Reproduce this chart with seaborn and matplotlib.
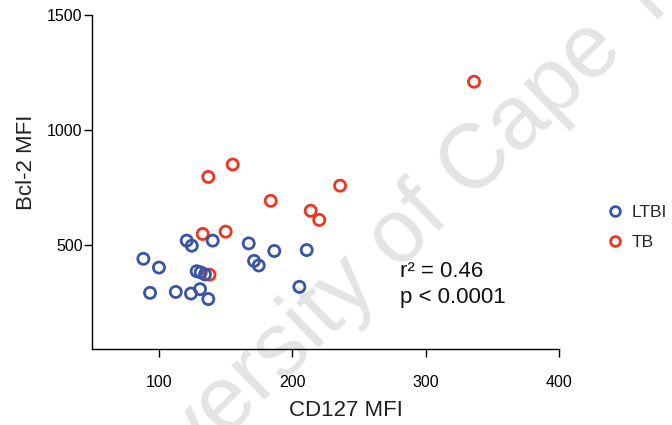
import matplotlib
matplotlib.use("Agg")
import matplotlib.pyplot as plt
from matplotlib.lines import Line2D
import seaborn as sns
import pandas as pd

# ---- data ----
tb_cd127 = [336.3, 155.3, 137.0, 183.8, 213.8, 220.2, 235.8, 132.8, 150.0, 137.9]
tb_bcl2 = [1210, 850, 796, 692, 649, 609, 758, 548, 558, 371]

ltbi_cd127 = [120.8, 124.6, 140.3, 167.3, 186.5, 210.8, 88.3, 100.0, 171.3, 174.8,
              128.3, 131.3, 134.5, 93.3, 112.6, 124.0, 130.8, 137.0, 205.3]
ltbi_bcl2 = [519, 497, 519, 507, 474, 478, 440, 402, 431, 411,
             386, 381, 372, 292, 296, 289, 308, 265, 318]

groups = ["LTBI", "TB"]
colors = {"LTBI": "#3A55A5", "TB": "#EE3524"}
x_ticks = [100, 200, 300, 400]
y_ticks = [500, 1000, 1500]
stats_text = "r\u00b2 = 0.46\np < 0.0001"

df = pd.DataFrame({
    "CD127": tb_cd127 + ltbi_cd127,
    "Bcl2": tb_bcl2 + ltbi_bcl2,
    "group": ["TB"] * len(tb_cd127) + ["LTBI"] * len(ltbi_cd127),
})

sns.set_theme(style="white")
plt.rcParams["font.family"] = ["Liberation Sans", "DejaVu Sans"]

fig = plt.figure(figsize=(6.72, 4.25), dpi=100)
ax = fig.add_axes([92.3 / 672, 1 - 348.5 / 425, (559 - 92.3) / 672, (348.5 - 15) / 425])
ax.patch.set_alpha(0)

# watermark
fig.text(0.637, 0.507, "University of Cape Town", fontsize=65, color="#e4e4e4",
         rotation=44, ha="center", va="center", rotation_mode="anchor", zorder=-5)

sns.scatterplot(data=df, x="CD127", y="Bcl2", hue="group", palette=colors,
                s=64, linewidth=0, legend=False, ax=ax, zorder=3)
pts = ax.collections[0]
fc = pts.get_facecolors()
pts.set_edgecolors(fc)
pts.set_facecolors("none")
pts.set_linewidths(2.0)

ax.set_xlim(50, 400)
ax.set_ylim(50, 1500)
ax.set_xticks(x_ticks)
ax.set_yticks(y_ticks)
ax.set_xticklabels([str(v) for v in x_ticks])
ax.set_yticklabels([str(v) for v in y_ticks])

sns.despine(ax=ax)
for sp in ["left", "bottom"]:
    ax.spines[sp].set_color("black")
    ax.spines[sp].set_linewidth(1.0)

ax.tick_params(axis="both", which="both", direction="out", length=6, width=1.0,
               color="black", labelsize=11.5, labelcolor="black",
               left=True, bottom=True)
ax.tick_params(axis="x", pad=13)
ax.tick_params(axis="y", pad=1)

ax.set_xlabel("CD127 MFI", fontsize=16, color="#222222")
ax.set_ylabel("Bcl-2 MFI", fontsize=16, color="#222222")
ax.xaxis.set_label_coords(0.5436, -0.154)
ax.yaxis.set_label_coords(-0.1195, 0.559)

fig.text(400 / 672, 1 - 261 / 425, stats_text, fontsize=16, va="top",
         linespacing=1.3, color="#111111")

handles = [Line2D([], [], marker="o", linestyle="none", markersize=7,
                  markerfacecolor="none", markeredgecolor=colors[g],
                  markeredgewidth=2.0) for g in groups]
fig.legend(handles, groups, loc="center left", bbox_to_anchor=(606 / 672, 1 - 227.3 / 425),
           frameon=False, fontsize=12.5, handlelength=1.0, handletextpad=0.5,
           borderpad=0, borderaxespad=0, labelspacing=0.85)

fig.savefig("out.png", dpi=100)
